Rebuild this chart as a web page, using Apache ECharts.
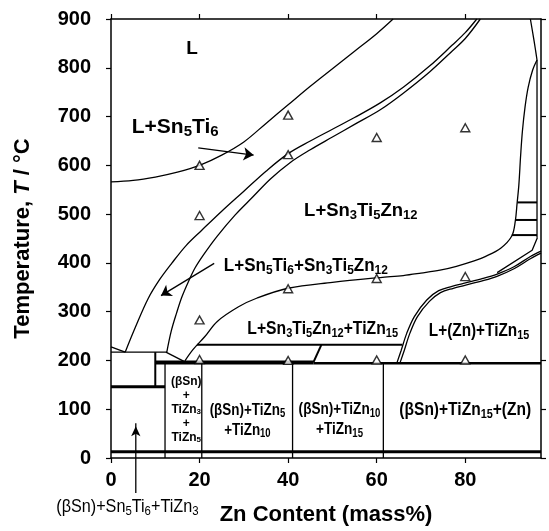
<!DOCTYPE html>
<html><head><meta charset="utf-8">
<script src="https://cdn.jsdelivr.net/npm/echarts@6/dist/echarts.min.js"></script>
<style>html,body{margin:0;padding:0;background:#fff}#c{width:549px;height:531px}</style>
</head><body><div id="c"></div>
<script>
// ---------- tick labels ----------
const xTickValues = [0, 20, 40, 60, 80];
const yTickValues = [0, 100, 200, 300, 400, 500, 600, 700, 800, 900];

// ---------- measured points (open triangles) ----------
const sampleZn = [20, 20, 20, 20, 40, 40, 40, 40, 60, 60, 60, 80, 80, 80];
const sampleT  = [600, 497, 283, 202, 703, 622, 347, 200, 657, 368, 201, 677, 372, 201];

// ---------- phase boundaries [Zn mass%, T] ----------
const liquidusSn5Ti6 = [[0,566],[5,569],[10,576],[15,586],[20,600],[25,621],[30,648],[35,686],[40,724],[45,762],[50,798],[55,834],[60,870],[63.7,900]];
const boundaryP = [[3.2,217],[5.5,268],[8.4,327],[11,366],[13.7,399],[17,436],[20.5,467],[25,506],[30,547],[35,588],[40,624],[45,650],[50,674],[55,698],[60.8,728],[66,760],[72,804],[77,846],[80,872],[82.6,900]];
const boundaryQ = [[12.6,217],[13.6,260],[14.8,297],[16,330],[17.5,362],[19,390],[21,418],[24,455],[28,498],[32,535],[36,572],[40.5,606],[45,632],[50,658],[55,684],[60.8,714],[66,748],[72,792],[77,834],[80,860],[83.4,900]];
const boundaryC = [[16.7,199],[18.5,222],[21.2,249],[24,280],[28.8,310],[33,328],[40,348],[50,360],[60.8,370],[66,374],[70,379],[74.3,385],[78,393],[82,404],[84.5,413],[88,430],[90.5,455],[91.3,486],[91.7,522],[92.1,560],[92.5,620],[92.9,670],[93.5,720],[94.2,760],[95.2,795],[96.2,816]];
const liquidusZn = [[94.7,900],[95.3,868],[95.8,840],[96.2,816]];
const boundaryD1 = [[64.6,196],[65.5,220],[66.8,256],[68.5,290],[71.3,324],[74,343],[77,352],[79.6,358],[84,368],[87.2,377],[91,392],[94.7,413],[97.1,424]];
const boundaryD2 = [[65.3,196],[66.2,220],[67.5,256],[69.2,290],[71.9,321],[74.4,339],[77.3,348],[79.9,354],[84.2,364],[87.3,373],[91,388],[94.8,409],[97.1,420]];
const boundaryE = [[96.3,452],[95.1,426],[87.2,380]];
const zincSideVertical = [[96.2,816],[96.2,452]];
const zincBox1 = [[91.75,524],[96.2,524]];
const zincBox2 = [[91.3,488],[96.2,488]];
const zincBox3 = [[90.5,457],[96.2,457]];

const line13 = [[0,13],[97.1,13]];
const leftDiag = [[0,228],[3.2,217]];
const boxTop = [[0,217],[12.6,217]];
const boxDiag = [[12.4,217],[16.7,197]];
const boxVert = [[10,217],[10,146]];
const box146 = [[0,146],[12.2,146]];
const eut196 = [[10,196],[45.7,196]];
const eut194 = [[45.7,194],[97.1,194]];
const diag232 = [[45.7,196],[47.5,232]];
const line232 = [[19.4,232],[65.8,232]];
const vert12 = [[12.2,196],[12.2,0]];
const vert20 = [[20.5,196],[20.5,0]];
const vert41 = [[41,196],[41,0]];
const vert61 = [[61.5,194],[61.5,0]];

// ---------- annotations ----------
const FONT = '"Liberation Sans", Arial, Helvetica, sans-serif';
const regionLabels = [
  {text:'L', at:[18.3,839], f:19, sx:1},
  {text:'L+Sn_5Ti_6', at:[14.5,679], f:21, sx:1},
  {text:'L+Sn_3Ti_5Zn_12', at:[56.4,507], f:18.5, sx:1},
  {text:'L+Sn_5Ti_6+Sn_3Ti_5Zn_12', at:[44.0,394], f:18.5, sx:0.92},
  {text:'L+Sn_3Ti_5Zn_12+TiZn_15', at:[47.8,265], f:18.5, sx:0.85},
  {text:'L+(Zn)+TiZn_15', at:[83.1,261], f:18.5, sx:0.83},
  {text:'(βSn)+TiZn_15+(Zn)', at:[80,98], f:18.5, sx:0.84},
  {text:'(βSn)+TiZn_10\n+TiZn_15', at:[51.6,79], f:17, sx:0.8},
  {text:'(βSn)+TiZn_5\n+TiZn_10', at:[30.8,78], f:17, sx:0.79},
  {text:'(βSn)\n+\nTiZn_3\n+\nTiZn_5', at:[17,100], f:12, sx:1},
  {text:'(βSn)+Sn_5Ti_6+TiZn_3', at:[3.7,-100], f:18.5, sx:0.875, weight:'normal'}
];
const arrowsInPlot = [
  [[19.7,636],[32.2,621]],
  [[23.3,399],[11.3,333]]
];
const arrowBelowAxis = [[5.6,-72],[5.6,71]];

function toRich(text) {
  return text.split('\n').map(line =>
    line.split(/_(\d+)/).map((seg, i) => seg === '' ? '' : (i % 2 ? '{s|' + seg + '}' : '{m|' + seg + '}')).join('')
  ).join('\n');
}
function richStyles(f, weight) {
  return {
    m: {fontSize: f, fontFamily: FONT, fontWeight: weight, fill: '#000', lineHeight: Math.round(f * 1.2)},
    s: {fontSize: Math.round(f * 0.7), fontFamily: FONT, fontWeight: weight, fill: '#000', lineHeight: Math.round(f * 0.7), verticalAlign: 'bottom'}
  };
}

const series = [];
function addLine(data, width, smooth) {
  series.push({type: 'line', data: data, showSymbol: false, symbol: 'none', smooth: smooth || false,
    lineStyle: {color: '#000', width: width}, silent: true, animation: false, z: 3, emphasis: {disabled: true}});
}
[liquidusSn5Ti6, boundaryP, boundaryQ, boundaryC, liquidusZn, boundaryD1, boundaryD2].forEach(d => addLine(d, 1.3, 0.35));
[boundaryE, zincSideVertical, leftDiag, boxTop, boxDiag, vert12, vert20, vert41, vert61].forEach(d => addLine(d, 1.3, false));
[zincBox1, zincBox2, zincBox3, line232, diag232, boxVert].forEach(d => addLine(d, 2, false));
addLine(eut194, 2.5, false);
[line13, box146].forEach(d => addLine(d, 3, false));
addLine(eut196, 4, false);

series.push({
  type: 'scatter', symbol: 'triangle', symbolSize: [9, 8], silent: true, animation: false, z: 5,
  itemStyle: {color: '#fff', borderColor: '#000', borderWidth: 1.4},
  data: sampleZn.map((x, i) => [x, sampleT[i]])
});

// arrows inside the plot
series.push({
  type: 'line', data: [], silent: true, animation: false,
  markLine: {
    silent: true, animation: false, symbol: ['none', 'arrow'], symbolSize: 10,
    lineStyle: {color: '#000', width: 1.3, type: 'solid'}, itemStyle: {color: '#000'},
    label: {show: false}, emphasis: {disabled: true},
    data: arrowsInPlot.map(a => [{coord: a[0]}, {coord: a[1]}])
  }
});
// arrow from the label under the axis
series.push({
  type: 'line', clip: false, silent: true, animation: false, z: 4, showSymbol: true,
  lineStyle: {color: '#000', width: 1.3}, itemStyle: {color: '#000'}, emphasis: {disabled: true},
  data: [
    {value: arrowBelowAxis[0], symbol: 'none'},
    {value: arrowBelowAxis[1], symbol: 'arrow', symbolSize: [7, 10], symbolOffset: [0, 3]}
  ]
});

const axisLineStyle = {show: true, onZero: false, lineStyle: {color: '#000', width: 1.5}};
const tickStyle = {show: true, inside: false, length: 5, lineStyle: {color: '#000', width: 1.2}};
const option = {
  backgroundColor: '#fff',
  animation: false,
  grid: {left: 111, right: 8, top: 19, bottom: 73, containLabel: false, outerBoundsMode: 'none'},
  xAxis: [
    {type: 'value', position: 'bottom', min: 0, max: 97.1,
     axisLine: axisLineStyle, axisTick: Object.assign({customValues: xTickValues}, tickStyle),
     splitLine: {show: false},
     axisLabel: {customValues: xTickValues, fontSize: 20, fontWeight: 'bold', fontFamily: FONT, color: '#000', margin: 12},
     name: 'Zn Content (mass%)', nameLocation: 'middle', nameGap: 46, nameMoveOverlap: false,
     nameTextStyle: {fontSize: 22, fontWeight: 'bold', fontFamily: FONT, color: '#000'}},
    {type: 'value', position: 'top', min: 0, max: 97.1,
     axisLine: axisLineStyle, axisTick: Object.assign({customValues: xTickValues}, tickStyle),
     splitLine: {show: false}, axisLabel: {show: false}}
  ],
  yAxis: [
    {type: 'value', position: 'left', min: 0, max: 900, interval: 100,
     axisLine: axisLineStyle, axisTick: tickStyle, splitLine: {show: false},
     axisLabel: {customValues: yTickValues, fontSize: 20, fontWeight: 'bold', fontFamily: FONT, color: '#000', margin: 20},
     name: '{a|Temperature, }{i|T}{a| / °C}', nameLocation: 'middle', nameGap: 77, nameRotate: 90, nameMoveOverlap: false,
     nameTextStyle: {rich: {
       a: {fontSize: 22, fontWeight: 'bold', fontFamily: FONT, color: '#000'},
       i: {fontSize: 22, fontWeight: 'bold', fontStyle: 'italic', fontFamily: FONT, color: '#000'}}}},
    {type: 'value', position: 'right', min: 0, max: 900, interval: 100,
     axisLine: axisLineStyle, axisTick: tickStyle, splitLine: {show: false}, axisLabel: {show: false}}
  ],
  series: series
};
const chart = echarts.init(document.getElementById('c'), null, {renderer: 'canvas'});
chart.setOption(option);

// region labels placed through the axes' scales
const graphics = regionLabels.map(l => {
  const p = chart.convertToPixel({gridIndex: 0}, l.at);
  return {
    type: 'text', x: p[0], y: p[1], scaleX: l.sx, z: 20, silent: true,
    style: {text: toRich(l.text), rich: richStyles(l.f, l.weight || 'bold'), align: 'center', verticalAlign: 'middle', fill: '#000'}
  };
});
chart.setOption({graphic: graphics});
</script></body></html>
